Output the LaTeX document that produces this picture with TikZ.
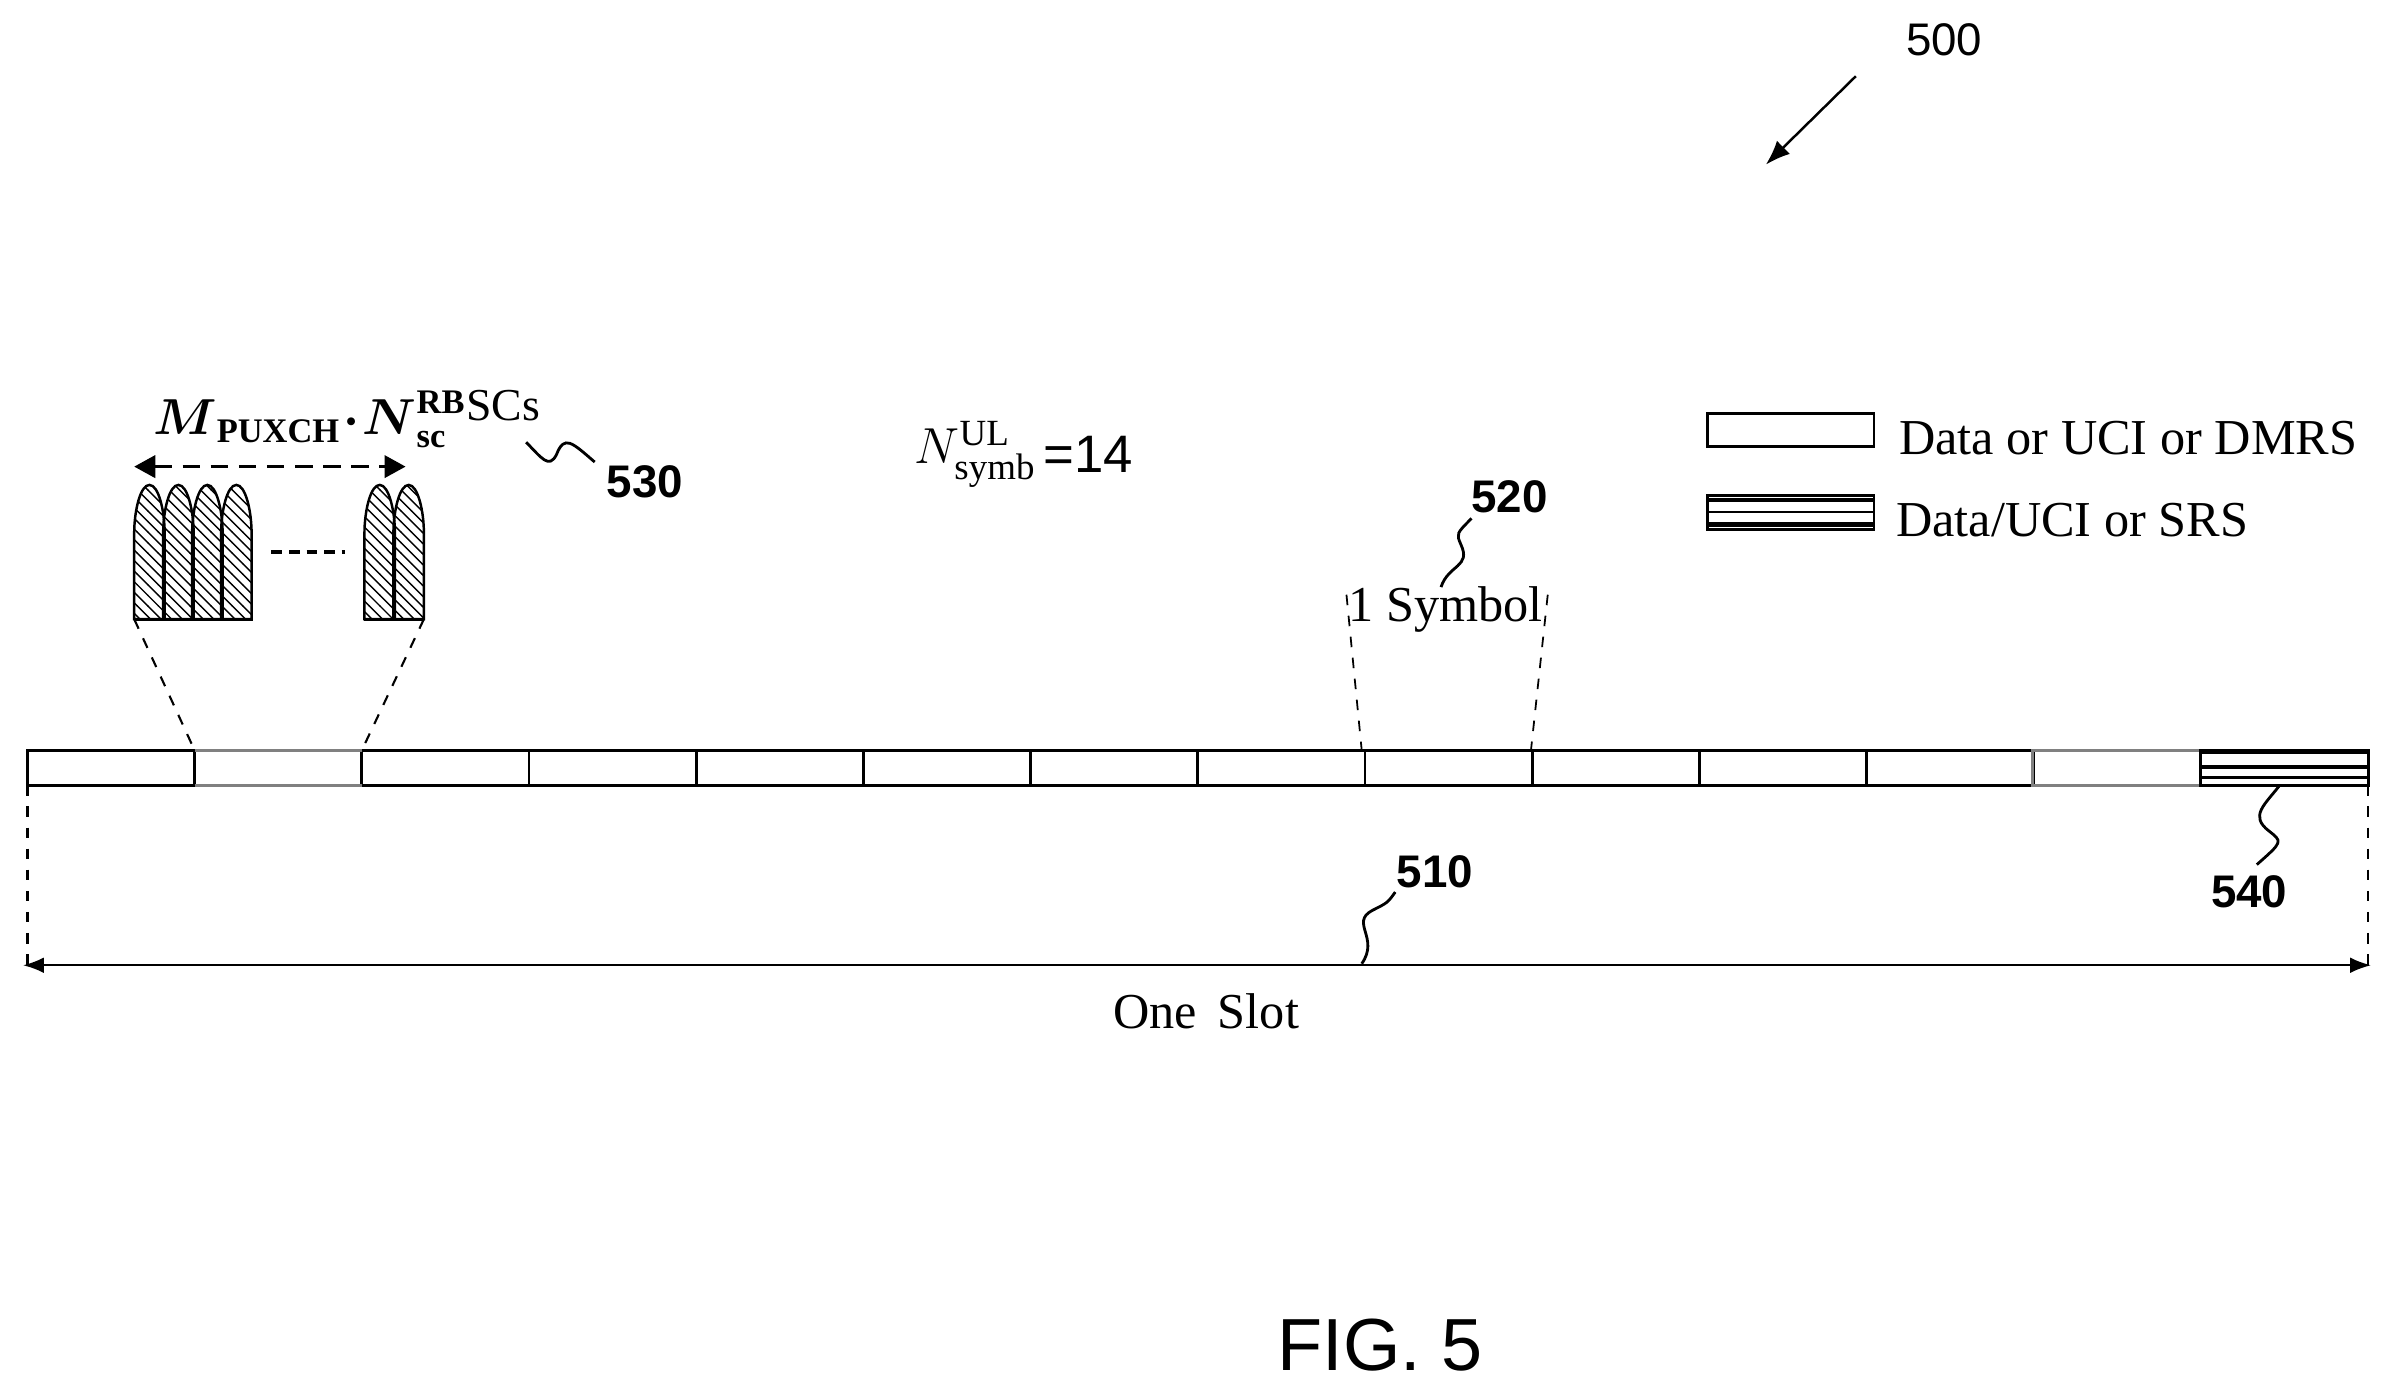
\documentclass[tikz,border=0pt]{standalone}
\usepackage{amsmath}
\usepackage{fontspec}
\setmainfont{Liberation Serif}
\newfontfamily\lsans{Liberation Sans}
\usetikzlibrary{patterns,arrows.meta}
\begin{document}
\begin{tikzpicture}[x=0.01525cm,y=-0.01525cm,
  lab/.style={font=\lsans\bfseries\fontsize{13}{13}\selectfont,inner sep=0},
  txt/.style={font=\fontsize{14.3}{14}\selectfont,inner sep=0},
  dsh/.style={dashed,line width=0.6pt},
  hump/.style={draw,line width=0.7pt,pattern=north west lines}]
\useasboundingbox (0,0) rectangle (1568,916);
% bar
\foreach \i in {0,...,12}{
  \pgfmathsetmacro\xa{18+\i*109.64}
  \pgfmathsetmacro\xb{18+(\i+1)*109.64}
  \draw[line width=0.8pt] (\xa,492) rectangle (\xb,515);
}
\draw[line width=0.8pt,gray] (127.6,492) -- (237.3,492) (127.6,515) -- (237.3,515);
\draw[line width=0.8pt,gray] (1333,492) rectangle (1443,515);
\draw[line width=0.8pt] (1443,492) rectangle (1553,515);
\draw[line width=1.5pt] (1443,493) -- (1553,493);
\draw[line width=1.0pt] (1443,503) -- (1553,503) (1443,510) -- (1553,510);
% slot
\coordinate (L1) at (18,515); \coordinate (L2) at (18,634);
\coordinate (R1) at (1553,515); \coordinate (R2) at (1553,634);
\draw[dsh] (L1) -- (L2); \draw[dsh] (R1) -- (R2);
\draw[{Latex[length=6pt]}-{Latex[length=6pt]},line width=0.7pt] (15,633) -- (1555,633);
\node[txt] (slot) at (791,663) {One\, Slot};
\coordinate (q510a) at (893,632);
\draw[line width=0.8pt] (q510a) .. controls (905,615) and (885,605) .. (900,597) .. controls (910,592) .. (915,585);
\node[lab] (n510) at (941,572) {510};
% 1 symbol
\node[txt] (sym) at (948,400) {1 Symbol};
\coordinate (d1a) at (883,390); \coordinate (d1b) at (893,492);
\coordinate (d2a) at (1015,390); \coordinate (d2b) at (1004,492);
\draw[dashed,line width=0.5pt] (d1a) -- (d1b) (d2a) -- (d2b);
\coordinate (q520) at (945,385);
\draw[line width=0.8pt] (q520) .. controls (950,370) and (965,372) .. (958,357) .. controls (955,350) .. (965,340);
\node[lab] (n520) at (990,326) {520};
% subcarriers
\foreach \a in {88,107,126,145,239,258}{
  \draw[hump] (\a,406) -- (\a,350) .. controls (\a,335) and (\a+4,318) .. (\a+10,318)
     .. controls (\a+16,318) and (\a+20,335) .. (\a+20,350) -- (\a+20,406) -- cycle;
}
\draw[line width=0.8pt] (88,406) -- (166,406) (239,406) -- (278,406);
\draw[line width=1pt,dash pattern=on 3pt off 2pt] (178,362) -- (226,362);
\draw[dsh] (88,406) -- (127.6,492) (278,406) -- (237.3,492);
\draw[{Triangle[length=6pt]}-{Triangle[length=6pt]},line width=1pt,dash pattern=on 5pt off 3pt] (88,306) -- (266,306);
\node[inner sep=0,anchor=base west] (math) at (100,285)
  {\fontsize{14}{14}\selectfont$\boldsymbol{M}_{\mathbf{PUXCH}}\!\boldsymbol{\cdot}\!\boldsymbol{N}^{\mathbf{RB}}_{\mathbf{sc}}$\raisebox{4pt}{\fontsize{13}{13}\selectfont SCs}};
\coordinate (q530) at (345,290);
\draw[line width=0.8pt] (q530) .. controls (355,300) and (360,308) .. (365,298) .. controls (370,285) and (375,290) .. (390,303);
\node[lab] (n530) at (423,316) {530};
\node[inner sep=0,anchor=east] (nul) at (680,298) {\fontsize{15}{15}\selectfont$N^{\mathrm{UL}}_{\mathrm{symb}}$};
\node[inner sep=0,anchor=west,font=\lsans\fontsize{15}{15}\selectfont] (eq) at (684,298) {=14};
% legend
\node[draw,line width=0.8pt,minimum width=109*0.01525cm,minimum height=22*0.01525cm,inner sep=0] (lg1) at (1174.5,282) {};
\node[txt,anchor=west] (lt1) at (1245,287) {Data or UCI or DMRS};
\node[draw,line width=0.8pt,minimum width=109*0.01525cm,minimum height=22*0.01525cm,inner sep=0] (lg2) at (1174.5,336) {};
\draw[line width=1.2pt] (lg2.north west) ++(0,4) -- ++(109,0);
\draw[line width=1.2pt] (lg2.south west) ++(0,-4) -- ++(109,0);
\draw[line width=0.6pt] (lg2.west) -- (lg2.east);
\node[txt,anchor=west] (lt2) at (1243,341) {Data/UCI or SRS};
% 540
\coordinate (q540) at (1495,515);
\draw[line width=0.8pt] (q540) .. controls (1485,528) and (1475,535) .. (1488,545) .. controls (1497,552) .. (1480,567);
\node[lab] (n540) at (1475,585) {540};
% 500
\node[inner sep=0,font=\lsans\fontsize{13}{13}\selectfont] (n500) at (1275,26) {500};
\coordinate (a500) at (1217,50); \coordinate (b500) at (1158,108);
\draw[-{Latex[length=7pt]},line width=0.7pt] (a500) -- (b500);
\node[inner sep=0,font=\lsans\fontsize{21}{21}\selectfont] (fig) at (905,882) {FIG. 5};
\end{tikzpicture}
\end{document}
